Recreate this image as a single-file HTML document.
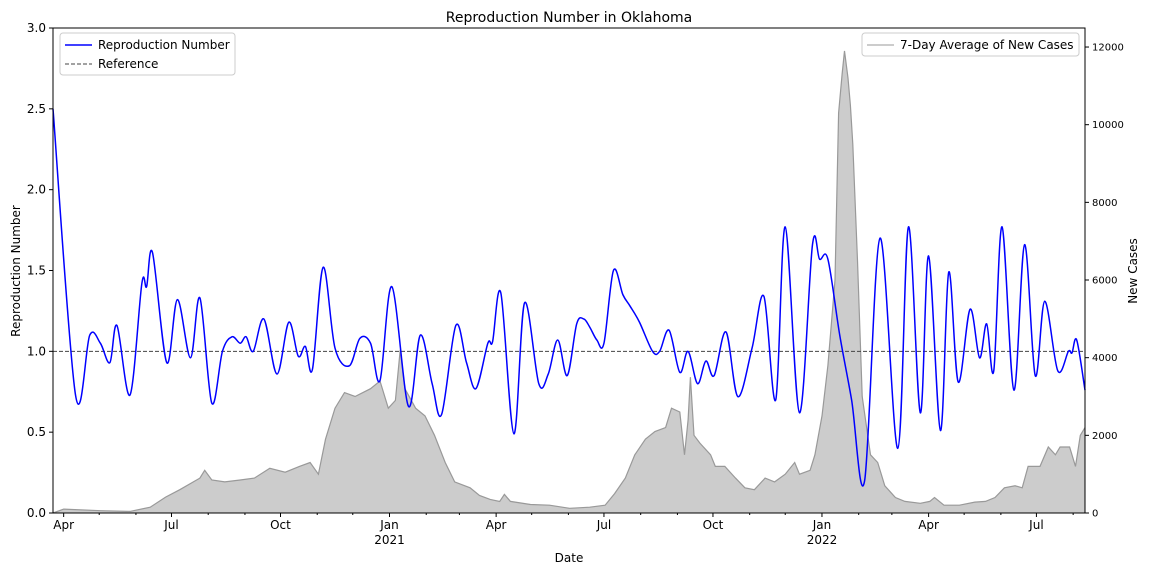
<!DOCTYPE html>
<html><head><meta charset="utf-8"><style>
body{margin:0;background:#fff;font-family:"Liberation Sans","DejaVu Sans",sans-serif}
svg text{font-family:"DejaVu Sans","Liberation Sans",sans-serif}
</style></head><body>
<svg id="c" width="1152" height="576"></svg>
<script>
const startDate = new Date(2020, 2, 23);
const rDays = [0,19,31,40,48,54,65,75,79,84,96,105,116,124,134,143,151,158,163,169,178,189,199,207,213,219,228,238,250,259,268,276,286,300,310,320,328,340,349,357,367,371,378,389,398,410,418,426,434,442,448,453,459,465,473,481,487,495,506,512,520,529,536,544,551,558,568,578,590,600,610,618,630,641,647,654,664,674,685,698,713,722,732,739,749,756,764,774,782,788,794,801,811,820,829,837,848,857,860,864,871];
const rVals = [2.5,0.73,1.1,1.05,0.93,1.16,0.73,1.42,1.4,1.61,0.93,1.32,0.96,1.33,0.68,1.0,1.09,1.05,1.09,1.0,1.2,0.86,1.18,0.97,1.03,0.89,1.52,1.02,0.91,1.08,1.05,0.82,1.4,0.66,1.1,0.8,0.61,1.16,0.93,0.77,1.05,1.06,1.36,0.49,1.3,0.8,0.86,1.07,0.85,1.17,1.2,1.15,1.07,1.05,1.5,1.35,1.28,1.18,1.0,1.0,1.13,0.87,1.0,0.8,0.94,0.85,1.12,0.72,1.02,1.34,0.7,1.77,0.62,1.66,1.57,1.57,1.1,0.7,0.2,1.70,0.4,1.77,0.62,1.59,0.51,1.49,0.81,1.26,0.96,1.17,0.88,1.77,0.76,1.66,0.85,1.31,0.88,1.0,0.99,1.07,0.76];
const cDays = [0,9,40,65,82,95,107,124,128,134,145,158,170,183,196,208,217,224,230,238,246,255,268,276,283,289,293,297,306,314,322,331,339,352,360,369,377,381,386,403,419,436,453,466,474,483,491,500,508,517,522,529,533,536,538,541,546,555,559,567,576,584,592,601,609,618,626,630,639,643,649,654,660,663,666,668,671,673,675,679,683,690,696,702,711,719,732,740,744,752,765,778,787,795,803,812,818,823,833,840,846,850,858,863,867,871];
const cVals = [0,100,60,40,150,410,600,900,1100,850,800,850,900,1150,1050,1200,1300,1000,1900,2700,3100,3000,3200,3400,2700,2900,4200,3200,2700,2500,2000,1300,800,650,450,350,300,480,300,220,200,120,150,200,500,900,1500,1900,2100,2200,2700,2600,1500,2400,3500,2000,1800,1500,1200,1200,900,650,600,900,800,1000,1300,1000,1100,1500,2500,3800,6000,10300,11300,11900,11200,10500,9500,6500,3000,1500,1300,700,400,300,250,300,400,200,200,280,300,400,650,700,650,1200,1200,1700,1500,1700,1700,1200,2000,2200];
const yTicksL = [0,0.5,1.0,1.5,2.0,2.5,3.0];
const yTicksR = [0,2000,4000,6000,8000,10000,12000];

const L=53,R=1085,T=28,B=513,NDAYS=871,RMAX=12490;
const xs=d=>L+d*(R-L)/NDAYS, yl=v=>B-v*(B-T)/3, yr=v=>B-v*(B-T)/RMAX;
const svg=document.getElementById('c'), NS='http://www.w3.org/2000/svg';
function mk(t,a,p){const e=document.createElementNS(NS,t);for(const k in a)e.setAttribute(k,a[k]);(p||svg).appendChild(e);return e;}
function tx(s,a,p){const e=mk('text',a,p);e.textContent=s;return e;}

let d='M'+xs(cDays[0])+','+B;
cDays.forEach((dd,i)=>d+=' L'+xs(dd).toFixed(1)+','+yr(cVals[i]).toFixed(1));
d+=' L'+xs(cDays[cDays.length-1])+','+B+' Z';
const area=mk('path',{d:d,fill:'#cccccc',stroke:'none'});


let ld='';cDays.forEach((dd,i)=>ld+=(i?' L':'M')+xs(dd).toFixed(1)+','+yr(cVals[i]).toFixed(1));
const cl=mk('path',{d:ld,fill:'none',stroke:'#999','stroke-width':1.2});



const ref=mk('line',{x1:L,x2:R,y1:yl(1),y2:yl(1),stroke:'#444','stroke-dasharray':'4,2','stroke-width':1});



const P=rDays.map((dd,i)=>[xs(dd),yl(rVals[i])]);
let rd='M'+P[0][0]+','+P[0][1];
for(let i=0;i<P.length-1;i++){const p0=P[Math.max(0,i-1)],p1=P[i],p2=P[i+1],p3=P[Math.min(P.length-1,i+2)];
const k=6;rd+=` C${p1[0]+(p2[0]-p0[0])/k},${p1[1]+(p2[1]-p0[1])/k} ${p2[0]-(p3[0]-p1[0])/k},${p2[1]-(p3[1]-p1[1])/k} ${p2[0]},${p2[1]}`;}
const rl=mk('path',{d:rd,fill:'none',stroke:'#0000ff','stroke-width':1.5});



const fr=mk('rect',{x:L,y:T,width:R-L,height:B-T,fill:'none',stroke:'#000','stroke-width':1});



yTicksL.forEach(v=>{mk('line',{x1:L-4,x2:L,y1:yl(v),y2:yl(v),stroke:'#000'});
const t=tx(v.toFixed(1),{x:L-7,y:yl(v)+4,'text-anchor':'end','font-size':12});

});
yTicksR.forEach(v=>{mk('line',{x1:R,x2:R+4,y1:yr(v),y2:yr(v),stroke:'#000'});
const t=tx(String(v),{x:R+7,y:yr(v)+3.5,'font-size':10});

});

const mn=['Jan','Feb','Mar','Apr','May','Jun','Jul','Aug','Sep','Oct','Nov','Dec'];
for(let y=2020;y<=2022;y++)for(let m=0;m<12;m++){
const dd=Math.round((new Date(y,m,1)-startDate)/864e5);if(dd<0||dd>NDAYS)continue;
const x=xs(dd),maj=m%3===0;
mk('line',{x1:x,x2:x,y1:B,y2:B+(maj?4:2),stroke:'#000'});
if(maj){const t=tx(mn[m],{x:x,y:B+16,'text-anchor':'middle','font-size':12});


if(m===0){const t2=tx(String(y),{x:x,y:B+31,'text-anchor':'middle','font-size':12});

}}}

const ti=tx('Reproduction Number in Oklahoma',{x:569,y:22,'text-anchor':'middle','font-size':14});

const xl=tx('Date',{x:569,y:562,'text-anchor':'middle','font-size':12});

const yl1=tx('Reproduction Number',{x:0,y:0,'text-anchor':'middle','font-size':12,transform:'translate(20,271) rotate(-90)'});

const yl2=tx('New Cases',{x:0,y:0,'text-anchor':'middle','font-size':12,transform:'translate(1137,271) rotate(-90)'});


const lg=mk('g',{});
mk('rect',{x:60,y:33,width:175,height:42,rx:3,fill:'#fff',stroke:'#ccc'},lg);
mk('line',{x1:65,x2:92,y1:45,y2:45,stroke:'#00f','stroke-width':1.5},lg);
tx('Reproduction Number',{x:98,y:49,'font-size':12},lg);
mk('line',{x1:65,x2:92,y1:64,y2:64,stroke:'#444','stroke-dasharray':'4,2'},lg);
tx('Reference',{x:98,y:68,'font-size':12},lg);
const lg2=mk('g',{});
mk('rect',{x:862,y:33,width:217,height:23,rx:3,fill:'#fff',stroke:'#ccc'},lg2);
mk('line',{x1:867,x2:894,y1:45,y2:45,stroke:'#bbb','stroke-width':1.5},lg2);
tx('7-Day Average of New Cases',{x:900,y:49,'font-size':12},lg2);
</script>
</body></html>
